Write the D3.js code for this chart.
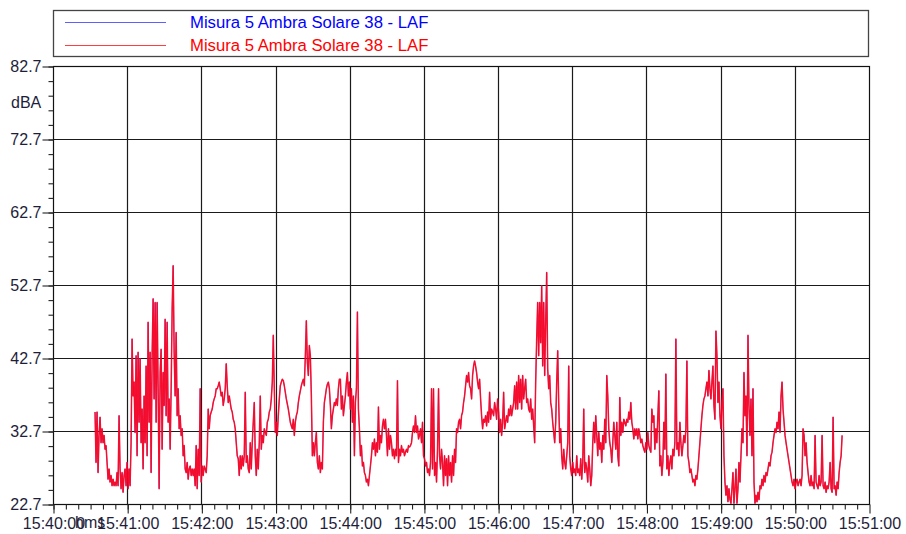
<!DOCTYPE html>
<html>
<head>
<meta charset="utf-8">
<script src="https://cdn.jsdelivr.net/npm/d3@7/dist/d3.min.js"></script>
<style>
  html, body { margin: 0; padding: 0; background: #fff; }
  svg { display: block; font-family: Arial, "Liberation Sans", sans-serif; }
</style>
</head>
<body>
<svg id="chart" width="906" height="534"></svg>
<script>
// Sound level log, LAF (A-weighted, fast), dBA
const seriesNames = ["Misura 5 Ambra Solare 38 - LAF", "Misura 5 Ambra Solare 38 - LAF"];
const seriesColors = ["#2a2aff", "#ff0000"];
const startTime = "15:40:34";
const stepMs = 810;            // logging interval
const xStart = "15:40:00", xEnd = "15:51:00";
const yMin = 22.7, yMax = 82.7;
const yTickValues = [22.7, 32.7, 42.7, 52.7, 62.7, 72.7, 82.7];
const yUnit = "dBA";
const xUnit = "hms";

const levels = [
  // 15:40:34 - 15:43:52
  35.3, 28.4, 35.3, 27.0, 32.1, 34.6, 31.1, 33.0, 31.1, 32.1,
  30.2, 30.7, 28.4, 26.1, 27.5, 25.7, 26.6, 25.2, 26.1, 25.2,
  25.7, 25.2, 27.0, 25.2, 34.8, 27.5, 24.8, 27.0, 24.3, 26.6,
  27.5, 25.2, 28.4, 24.8, 27.5, 25.2, 31.1, 45.3, 37.5, 39.4,
  32.5, 43.0, 29.3, 43.5, 33.9, 42.6, 31.1, 35.7, 27.5, 37.5,
  31.1, 41.6, 29.3, 47.6, 33.9, 43.5, 27.0, 43.0, 50.8, 37.1,
  50.3, 33.9, 50.3, 38.5, 24.8, 40.7, 43.9, 30.2, 40.7, 36.2,
  48.0, 34.8, 47.6, 33.9, 37.1, 30.2, 38.5, 49.4, 55.35, 43.5,
  37.5, 46.2, 34.8, 38.5, 33.0, 34.8, 32.1, 33.0, 29.3, 30.7,
  27.5, 27.0, 28.4, 26.1, 27.5, 27.9, 26.6, 27.5, 26.6, 27.5,
  25.2, 30.7, 24.8, 30.2, 26.6, 38.5, 25.7, 27.9, 26.6, 27.9,
  27.5, 27.0, 29.3, 35.7, 33.0, 34.8, 35.3, 35.7, 36.6, 37.1,
  37.5, 38.5, 38.5, 38.9, 39.4, 38.5, 37.5, 38.0, 36.2, 37.1,
  38.5, 41.9, 38.9, 36.6, 37.5, 36.6, 35.7, 35.3, 34.3, 33.9,
  33.0, 31.1, 29.3, 28.9, 26.6, 29.3, 27.5, 29.3, 27.9, 29.3,
  38.0, 28.4, 29.3, 27.5, 27.0, 31.1, 27.5, 31.1, 33.9, 36.6,
  29.3, 26.6, 30.2, 27.5, 31.1, 37.5, 30.2, 32.1, 31.1, 33.0,
  32.5, 32.1, 33.9, 34.3, 35.3, 35.7, 37.1, 39.4, 45.8, 38.5,
  32.5, 33.9, 32.1, 34.8, 37.1, 38.9, 39.4, 39.8, 39.6, 38.9,
  38.0, 37.1, 36.4, 35.7, 34.8, 33.9, 33.4, 33.0, 34.3, 32.1,
  33.9, 34.8, 35.3, 36.6, 37.5, 38.2, 38.9, 39.4, 39.8, 38.9,
  43.0, 47.8, 42.1, 40.3, 44.4, 43.0, 37.5, 29.3, 31.1, 29.3,
  31.1, 32.5, 28.4, 27.5, 29.3, 27.0, 28.4, 27.5, 33.9, 36.6,
  37.5, 38.5, 39.1, 39.4, 38.5, 36.2, 33.0, 34.8, 35.7, 36.6,
  36.2, 37.1, 36.2, 38.5, 39.8,
  // 15:43:52 - 15:47:18
  39.8, 35.7, 37.5, 34.8, 36.2, 37.5, 39.4, 40.7, 37.5, 39.4,
  35.7, 38.5, 33.9, 37.5, 29.3, 36.6, 38.5, 49.0, 35.7, 33.0,
  29.3, 30.7, 27.9, 28.4, 27.0, 26.6, 25.7, 26.1, 25.2, 26.6,
  27.9, 29.3, 31.1, 30.2, 31.6, 29.3, 31.1, 29.8, 36.0, 30.2,
  32.1, 31.1, 33.4, 34.3, 33.0, 34.3, 32.1, 29.3, 33.0, 30.2,
  32.1, 31.1, 29.3, 30.2, 28.9, 30.2, 29.3, 39.6, 28.4, 30.2,
  29.3, 30.7, 29.8, 30.2, 29.3, 29.8, 30.2, 29.8, 30.7, 30.5,
  30.7, 31.1, 32.5, 33.4, 32.5, 34.8, 32.5, 33.4, 31.6, 32.1,
  33.0, 31.1, 33.9, 29.3, 28.9, 27.9, 28.4, 27.0, 27.5, 26.6,
  28.4, 38.5, 27.5, 38.5, 26.6, 28.4, 25.7, 30.2, 38.5, 29.3,
  27.5, 30.2, 28.4, 25.2, 29.3, 26.6, 28.9, 25.2, 29.3, 26.6,
  28.4, 25.7, 29.3, 26.6, 30.2, 28.4, 33.0, 32.5, 33.9, 34.3,
  33.0, 34.8, 35.3, 36.6, 37.5, 38.9, 40.3, 39.4, 40.7, 38.9,
  38.5, 37.1, 40.3, 41.6, 42.3, 41.6, 40.7, 39.4, 38.5, 39.8,
  37.1, 34.8, 33.0, 34.3, 33.9, 34.8, 33.4, 35.3, 33.9, 38.0,
  34.3, 35.7, 35.3, 34.8, 36.6, 35.7, 34.3, 37.1, 35.3, 32.5,
  34.3, 32.1, 33.9, 38.0, 33.0, 33.9, 34.8, 33.9, 35.7, 34.8,
  36.2, 34.8, 35.7, 36.6, 38.9, 35.7, 39.4, 35.7, 40.3, 36.6,
  39.8, 35.7, 40.3, 37.1, 38.5, 39.8, 36.6, 37.1, 35.7, 35.3,
  37.1, 34.3, 35.7, 33.4, 31.1, 39.4, 45.3, 50.3, 43.0, 50.3,
  44.8, 52.6, 41.6, 50.3, 40.3, 47.6, 54.4, 41.2, 38.5, 40.3,
  36.6, 35.7, 33.9, 32.5, 31.1, 33.9, 39.4, 43.7, 36.6, 31.1,
  33.0, 29.3, 27.5, 30.2, 28.4, 27.5, 29.3, 31.1, 41.6, 29.3,
  27.5, 26.6, 28.4, 27.0, 27.5, 26.6, 29.3, 27.0, 27.5, 26.6,
  28.9, 26.1, 28.4, 35.7, 27.0, 28.4, 27.5, 25.7, 29.3, 27.5,
  25.2, 26.6, 31.1, 33.9,
  // 15:47:18 - 15:50:38
  31.1, 34.8, 32.1, 29.3, 32.5, 30.2, 31.1, 28.4, 32.1, 30.2,
  34.3, 31.1, 40.3, 37.5, 33.0, 31.1, 30.2, 28.4, 31.1, 33.9,
  32.1, 30.2, 33.9, 29.3, 27.9, 37.3, 32.1, 33.9, 32.5, 34.3,
  33.9, 33.4, 34.3, 33.9, 35.3, 34.3, 36.6, 33.9, 33.0, 31.6,
  33.0, 32.1, 33.0, 31.6, 33.0, 32.1, 31.1, 31.6, 30.7, 30.2,
  29.8, 31.1, 30.2, 32.5, 30.7, 30.2, 29.8, 35.7, 33.9, 34.8,
  30.2, 33.0, 31.1, 34.8, 38.2, 27.9, 29.3, 26.6, 28.4, 33.9,
  30.2, 40.5, 27.5, 29.3, 26.6, 28.4, 29.3, 27.5, 30.2, 29.3,
  31.1, 45.3, 30.2, 31.1, 29.3, 33.9, 31.1, 29.3, 30.7, 32.1,
  31.1, 33.0, 42.3, 29.3, 28.4, 27.0, 27.5, 26.6, 25.7, 26.1,
  25.2, 26.6, 26.1, 27.5, 29.3, 31.1, 33.0, 34.8, 36.2, 37.1,
  37.5, 38.5, 39.4, 37.5, 41.0, 38.5, 37.1, 39.4, 41.6, 36.2,
  34.3, 46.4, 43.0, 36.6, 39.4, 34.8, 33.0, 36.6, 38.5, 29.3,
  25.7, 23.9, 25.2, 23.0, 24.8, 23.3, 22.8, 24.8, 27.0, 22.8,
  24.8, 27.5, 22.8, 24.8, 28.4, 25.7, 29.3, 33.0, 31.1, 40.7,
  34.8, 37.5, 29.3, 45.8, 36.2, 32.1, 37.1, 29.3, 38.5, 25.7,
  22.8, 23.9, 23.0, 24.3, 23.3, 25.2, 24.8, 26.1, 25.2, 26.6,
  25.7, 27.0, 26.6, 27.5, 28.4, 27.9, 29.3, 29.8, 31.1, 32.1,
  33.0, 32.5, 33.9, 33.0, 35.3, 32.5, 37.5, 39.4, 35.7, 33.9,
  32.1, 31.1, 30.2, 29.3, 28.4, 27.5, 26.6, 25.7, 25.2, 26.1,
  24.8, 25.7, 26.1, 25.2, 25.7, 26.1, 25.2, 26.6, 33.0, 32.1,
  29.3, 31.1, 28.4, 27.0, 25.7, 25.2, 26.6, 25.2, 25.7, 24.8,
  32.1, 25.7, 25.2, 24.8, 26.6, 25.2, 25.7, 32.1, 25.2, 24.8,
  25.7, 24.3, 25.2, 24.8, 25.7, 28.4, 24.8, 24.3, 34.6, 24.8,
  25.2, 23.9, 25.7, 24.8, 27.0, 28.4, 29.3, 32.1
];

const parseHms = d3.timeParse("%H:%M:%S");
const t0 = parseHms(startTime);
const samples = levels.map((v, i) => ({ t: new Date(t0.getTime() + i * stepMs), v }));

const svg = d3.select("#chart");
const plot = { left: 53, right: 869, top: 66, bottom: 504 };

const x = d3.scaleTime()
  .domain([parseHms(xStart), parseHms(xEnd)])
  .range([plot.left, plot.right]);
const y = d3.scaleLinear()
  .domain([yMin, yMax])
  .range([plot.bottom, plot.top]);

const textColor = "#1e1e3a";

// legend box
const legend = svg.append("g");
legend.append("rect")
  .attr("x", 53.5).attr("y", 10.5).attr("width", 815).attr("height", 46)
  .attr("fill", "#fff").attr("stroke", "#444").attr("stroke-width", 1.3);
const legendText = ["#0000ff", "#ff0000"];
seriesNames.forEach((name, i) => {
  const cy = 22 + i * 23;
  legend.append("line")
    .attr("x1", 65).attr("x2", 166).attr("y1", cy + 0.5).attr("y2", cy + 0.5)
    .attr("stroke", seriesColors[i]).attr("stroke-width", 1.2).attr("opacity", 0.75);
  legend.append("text")
    .attr("x", 190).attr("y", cy + 5.5)
    .attr("font-size", 16.7)
    .attr("fill", legendText[i])
    .text(name);
});

// grid
const minuteTicks = d3.timeMinute.range(parseHms(xStart), d3.timeSecond.offset(parseHms(xEnd), 1));
const grid = svg.append("g");
grid.selectAll("line.v")
  .data(minuteTicks.slice(1, -1))
  .join("line")
  .attr("x1", d => Math.round(x(d)) + 0.5).attr("x2", d => Math.round(x(d)) + 0.5)
  .attr("y1", plot.top).attr("y2", plot.bottom)
  .attr("stroke", "#1a1a1a").attr("stroke-width", 1.2);
grid.selectAll("line.h")
  .data(yTickValues.slice(1, -1))
  .join("line")
  .attr("x1", plot.left).attr("x2", plot.right)
  .attr("y1", d => Math.round(y(d)) + 0.5).attr("y2", d => Math.round(y(d)) + 0.5)
  .attr("stroke", "#1a1a1a").attr("stroke-width", 1.2);

// data lines: both series share the same readings, red drawn over blue
const line = d3.line()
  .x(d => x(d.t))
  .y(d => y(d.v));
svg.append("path")
  .datum(samples)
  .attr("fill", "none")
  .attr("stroke", seriesColors[0])
  .attr("stroke-width", 1)
  .attr("stroke-opacity", 0.6)
  .attr("stroke-linejoin", "round")
  .attr("d", line);
svg.append("path")
  .datum(samples)
  .attr("fill", "none")
  .attr("stroke", "#ff0018")
  .attr("stroke-width", 1.5)
  .attr("stroke-opacity", 0.9)
  .attr("stroke-linejoin", "round")
  .attr("d", line);

// frame
svg.append("rect")
  .attr("x", plot.left + 0.5).attr("y", plot.top + 0.5)
  .attr("width", plot.right - plot.left).attr("height", plot.bottom - plot.top)
  .attr("fill", "none").attr("stroke", "#111").attr("stroke-width", 1.2);

// x axis: minor ticks every 10 s, labelled ticks each minute
const xMinor = svg.append("g")
  .attr("transform", `translate(0.5,${plot.bottom + 0.5})`)
  .call(d3.axisBottom(x)
    .tickValues(d3.timeSecond.every(10).range(parseHms(xStart), parseHms(xEnd)))
    .tickSize(5).tickFormat(""));
xMinor.select(".domain").remove();
const xAxis = svg.append("g")
  .attr("transform", `translate(0.5,${plot.bottom + 0.5})`)
  .call(d3.axisBottom(x)
    .tickValues(minuteTicks)
    .tickSize(9).tickPadding(4)
    .tickFormat(d3.timeFormat("%H:%M:%S")));
xAxis.select(".domain").remove();
svg.selectAll(".tick line").attr("stroke", "#222").attr("stroke-width", 1.1);
xAxis.selectAll("text")
  .attr("font-size", 16).attr("font-family", "Arial, 'Liberation Sans', sans-serif")
  .attr("fill", textColor);

// y axis: minor ticks every 2 dB, labelled ticks every 10 dB
const yMinor = svg.append("g")
  .attr("transform", `translate(${plot.left + 0.5},0.5)`)
  .call(d3.axisLeft(y)
    .tickValues(d3.range(yMin, yMax + 0.01, 2))
    .tickSize(5).tickFormat(""));
yMinor.select(".domain").remove();
const yAxis = svg.append("g")
  .attr("transform", `translate(${plot.left + 0.5},0.5)`)
  .call(d3.axisLeft(y)
    .tickValues(yTickValues)
    .tickSize(11).tickPadding(1)
    .tickFormat(d3.format(".1f")));
yAxis.select(".domain").remove();
yAxis.selectAll(".tick line").attr("stroke", "#222").attr("stroke-width", 1.1);
yMinor.selectAll(".tick line").attr("stroke", "#222").attr("stroke-width", 1.1);
yAxis.selectAll("text")
  .attr("font-size", 16).attr("font-family", "Arial, 'Liberation Sans', sans-serif")
  .attr("fill", textColor);

// unit labels
svg.append("text")
  .attr("x", 11).attr("y", 108)
  .attr("font-size", 16).attr("fill", textColor)
  .text(yUnit);
svg.append("text")
  .attr("x", 75).attr("y", 528)
  .attr("font-size", 16).attr("fill", textColor)
  .text(xUnit);
</script>
</body>
</html>
